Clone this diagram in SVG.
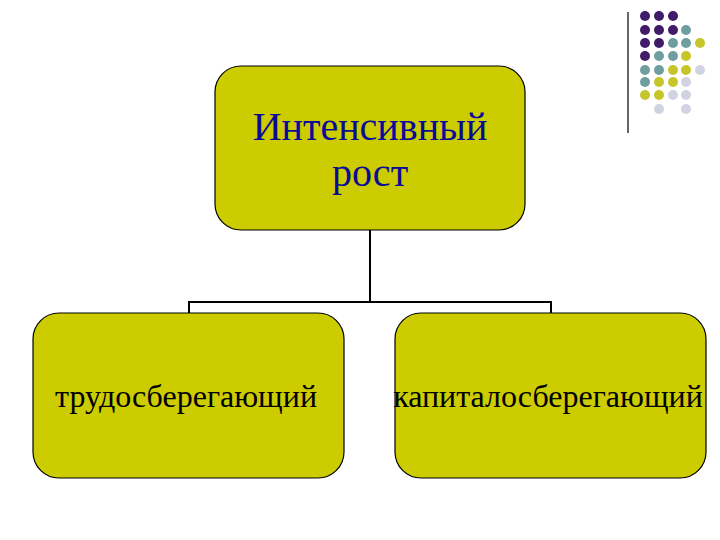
<svg xmlns="http://www.w3.org/2000/svg" width="720" height="540" viewBox="0 0 720 540">
<style>
.box{fill:#cccc00;stroke:#000;stroke-width:1.2}
.t{font-family:"Liberation Serif","Times New Roman",serif;text-anchor:middle}
.c{fill:none;stroke:#000;stroke-width:2}
.p{fill:#3f1b69}.g{fill:#6f9ea0}.y{fill:#c6c62a}.l{fill:#d2d3e2}
</style>
<rect width="720" height="540" fill="#fff"/>
<g id="decor">
<line x1="628" y1="12" x2="628" y2="133" stroke="#000" stroke-width="1.2"/>
<circle class="p" cx="645" cy="16" r="5"/><circle class="p" cx="659" cy="16" r="5"/><circle class="p" cx="673" cy="16" r="5"/>
<circle class="p" cx="645" cy="30" r="5"/><circle class="p" cx="659" cy="30" r="5"/><circle class="p" cx="673" cy="30" r="5"/><circle class="g" cx="686" cy="30" r="5"/>
<circle class="p" cx="645" cy="43" r="5"/><circle class="p" cx="659" cy="43" r="5"/><circle class="g" cx="673" cy="43" r="5"/><circle class="g" cx="686" cy="43" r="5"/><circle class="y" cx="700" cy="43" r="5"/>
<circle class="p" cx="645" cy="56" r="5"/><circle class="g" cx="659" cy="56" r="5"/><circle class="g" cx="673" cy="56" r="5"/><circle class="y" cx="686" cy="56" r="5"/>
<circle class="g" cx="645" cy="70" r="5"/><circle class="g" cx="659" cy="70" r="5"/><circle class="y" cx="673" cy="70" r="5"/><circle class="y" cx="686" cy="70" r="5"/><circle class="l" cx="700" cy="70" r="5"/>
<circle class="g" cx="645" cy="82" r="5"/><circle class="y" cx="659" cy="82" r="5"/><circle class="y" cx="673" cy="82" r="5"/><circle class="l" cx="686" cy="82" r="5"/>
<circle class="y" cx="645" cy="95" r="5"/><circle class="y" cx="659" cy="95" r="5"/><circle class="l" cx="673" cy="95" r="5"/><circle class="l" cx="686" cy="95" r="5"/>
<circle class="l" cx="659" cy="109" r="5"/><circle class="l" cx="686" cy="109" r="5"/>
</g>
<g id="connectors">
<path class="c" d="M370 230 V302 M189 313 V302 H551 V313"/>
</g>
<g id="root">
<rect class="box" x="215" y="66" width="310" height="164" rx="26"/>
<text class="t" x="370" y="140" font-size="40" fill="#0a0a96">Интенсивный</text>
<text class="t" x="370" y="186" font-size="40" fill="#0a0a96">рост</text>
</g>
<g id="left">
<rect class="box" x="33" y="313" width="311" height="165" rx="26"/>
<text class="t" x="186" y="407" font-size="32" fill="#000">трудосберегающий</text>
</g>
<g id="right">
<rect class="box" x="395" y="313" width="311" height="165" rx="26"/>
<text class="t" x="548" y="407" font-size="32" fill="#000">капиталосберегающий</text>
</g>
</svg>
